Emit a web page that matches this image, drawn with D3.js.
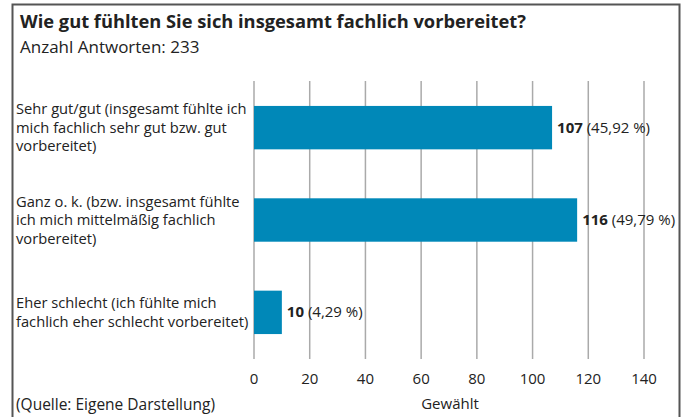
<!DOCTYPE html>
<html>
<head>
<meta charset="utf-8">
<script src="https://cdn.jsdelivr.net/npm/d3@7"></script>
<style>
  body { margin: 0; background: #fff; }
  svg text { font-family: "Open Sans", "Noto Sans", sans-serif; fill: #222; }
</style>
</head>
<body>
<div id="chart"></div>
<script>
const title = "Wie gut fühlten Sie sich insgesamt fachlich vorbereitet?";
const subtitle = "Anzahl Antworten: 233";
const categories = [
  ["Sehr gut/gut (insgesamt fühlte ich", "mich fachlich sehr gut bzw. gut", "vorbereitet)"],
  ["Ganz o. k. (bzw. insgesamt fühlte", "ich mich mittelmäßig fachlich", "vorbereitet)"],
  ["Eher schlecht (ich fühlte mich", "fachlich eher schlecht vorbereitet)"]
];
const counts = [107, 116, 10];
const percents = ["45,92 %", "49,79 %", "4,29 %"];
const ticks = [0, 20, 40, 60, 80, 100, 120, 140];

const w = 686, h = 417;
const svg = d3.select("#chart").append("svg").attr("width", w).attr("height", h);

// frame (open at the bottom)
svg.append("path")
  .attr("d", "M12.5,417 V4.5 H679.5 V417")
  .attr("fill", "none").attr("stroke", "#555").attr("stroke-width", 2);

svg.append("text").attr("x", 20).attr("y", 28)
  .attr("font-size", "18.3px").attr("font-weight", "bold").text(title);
svg.append("text").attr("x", 20).attr("y", 53)
  .attr("font-size", "17px").text(subtitle);

const x = d3.scaleLinear().domain([0, 140]).range([254, 644]);
const y = d3.scaleBand().domain(d3.range(counts.length)).range([81, 359]).paddingInner(0.53).paddingOuter(0.27);

// grid
svg.append("g").selectAll("line").data(ticks).enter().append("line")
  .attr("x1", d => x(d)).attr("x2", d => x(d))
  .attr("y1", 81).attr("y2", 359)
  .attr("stroke", "#aaa").attr("stroke-width", 1.5);

svg.append("g").selectAll("text").data(ticks).enter().append("text")
  .attr("x", d => x(d)).attr("y", 384)
  .attr("text-anchor", "middle").attr("font-size", "15px")
  .text(d => d);

svg.append("text").attr("x", 450).attr("y", 409)
  .attr("text-anchor", "middle").attr("font-size", "15px").text("Gewählt");

svg.append("text").attr("x", 16).attr("y", 410)
  .attr("font-size", "15.5px").text("(Quelle: Eigene Darstellung)");

// bars
svg.append("g").selectAll("rect").data(counts).enter().append("rect")
  .attr("x", x(0)).attr("y", (d, i) => y(i))
  .attr("width", d => x(d) - x(0)).attr("height", y.bandwidth())
  .attr("fill", "#0088b8");

// value labels
const vl = svg.append("g").selectAll("text").data(counts).enter().append("text")
  .attr("x", d => x(d) + 5).attr("y", (d, i) => y(i) + y.bandwidth() / 2 + 5)
  .attr("font-size", "15px");
vl.append("tspan").attr("font-weight", "bold").text(d => d);
vl.append("tspan").text((d, i) => " (" + percents[i] + ")");

// category labels
const lineH = 18.5;
categories.forEach(function(lines, i) {
  const cy = y(i) + y.bandwidth() / 2;
  const top = cy - (lines.length - 1) * lineH / 2 + 5;
  const t = svg.append("text").attr("x", 16).attr("font-size", "14.7px");
  lines.forEach(function(l, j) {
    t.append("tspan").attr("x", 16).attr("y", top + j * lineH).text(l);
  });
});
</script>
</body>
</html>
